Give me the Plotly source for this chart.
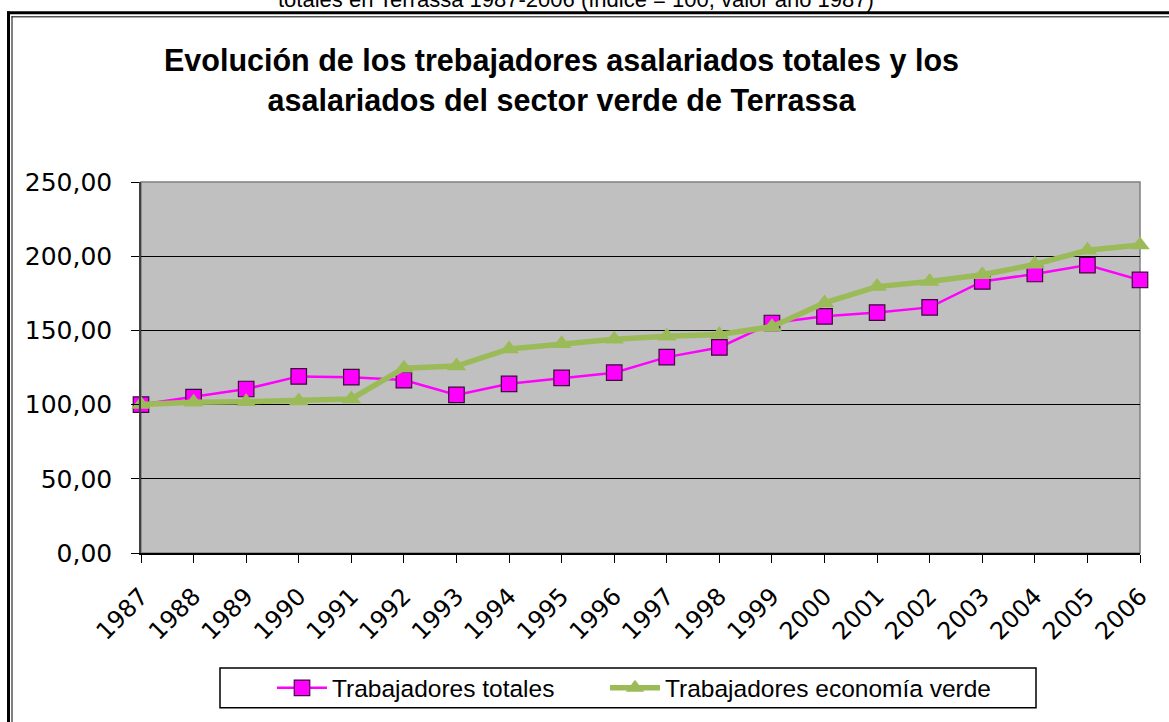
import plotly.graph_objects as go

years = list(range(1987, 2007))
year_labels = [str(y) for y in years]
totales = [100, 105, 110.5, 119, 118.5, 116.5, 106.5, 114, 118, 121.5,
           132, 138.5, 155, 159.5, 162, 165.5, 183, 188, 194, 184]
verde = [100, 101.5, 102, 102.5, 103.8, 124.5, 126, 137.5, 141, 144,
         146, 147.3, 152.5, 168.5, 179.5, 183, 187.5, 194.5, 204, 207.5]
y_ticks = [0, 50, 100, 150, 200, 250]

W, H = 1169, 722
L, R, T, B = 141, 29, 182, 166
PW, PH = W - L - R, H - T - B


def px(x):
    return (x - L) / PW


def py(y):
    return (H - B - y) / PH


fig = go.Figure()
fig.add_trace(go.Scatter(
    x=years, y=totales, name="Trabajadores totales", mode="lines+markers",
    line=dict(color="#FF00FF", width=2.5), cliponaxis=False,
    marker=dict(symbol="square", size=15.5, color="#FF00FF",
                line=dict(color="#3a0a3a", width=1.2)),
    legend="legend",
))
fig.add_trace(go.Scatter(
    x=years, y=verde, name="Trabajadores economía verde", mode="lines+markers",
    line=dict(color="#9BBB59", width=5.5), cliponaxis=False,
    marker=dict(symbol="triangle-up", size=17, color="#9BBB59"),
    legend="legend2",
))

shapes = [
    # plot border (gray)
    dict(type="rect", xref="paper", yref="paper", x0=0, x1=1, y0=0, y1=1,
         line=dict(color="#808080", width=1.5), layer="below"),
    # legend box
    dict(type="rect", xref="paper", yref="paper", x0=px(220), x1=px(1036),
         y0=py(672), y1=py(712), line=dict(color="black", width=1.5)),
    # outer double frame
    dict(type="line", xref="paper", yref="paper", x0=px(7), x1=px(1200),
         y0=py(11.5), y1=py(11.5), line=dict(color="black", width=3)),
    dict(type="line", xref="paper", yref="paper", x0=px(11.5), x1=px(1200),
         y0=py(15.5), y1=py(15.5), line=dict(color="black", width=1)),
    dict(type="line", xref="paper", yref="paper", x0=px(8.5), x1=px(8.5),
         y0=py(10), y1=py(760), line=dict(color="black", width=3)),
    dict(type="line", xref="paper", yref="paper", x0=px(12), x1=px(12),
         y0=py(15), y1=py(760), line=dict(color="black", width=1)),
]

annotations = [
    dict(text="totales en Terrassa 1987-2006 (índice = 100, valor año 1987)",
         xref="paper", yref="paper", x=px(576), y=py(13), xanchor="center",
         yanchor="bottom", showarrow=False,
         font=dict(family="Liberation Sans, Arial", size=22, color="black")),
    dict(text="<b>Evolución de los trebajadores asalariados totales y los<br>"
              "asalariados del sector verde de Terrassa</b>",
         xref="paper", yref="paper", x=px(561), y=py(79), xanchor="center",
         yanchor="middle", showarrow=False,
         font=dict(family="Liberation Sans, Arial", size=30.5, color="black")),
]

legend_common = dict(orientation="h", xanchor="left", yanchor="middle",
                     y=py(692), borderwidth=0, bgcolor="rgba(0,0,0,0)",
                     itemwidth=50,
                     font=dict(family="Liberation Sans, Arial", size=24.5,
                               color="black"))

fig.update_layout(
    width=W, height=H,
    margin=dict(l=L, r=R, t=T, b=B),
    paper_bgcolor="white", plot_bgcolor="#C0C0C0",
    separators=",.",
    showlegend=True,
    legend=dict(x=px(272), **legend_common),
    legend2=dict(x=px(605), **legend_common),
    shapes=shapes, annotations=annotations,
)
fig.update_xaxes(
    range=[1987, 2006], tickvals=years, ticktext=year_labels, tickangle=-45,
    showgrid=False, zeroline=False, showline=True, linecolor="black",
    linewidth=1.5, ticks="outside", ticklen=8, tickcolor="black",
    ticklabelstandoff=10,
    tickfont=dict(family="DejaVu Sans", size=24, color="black"),
)
fig.update_yaxes(
    range=[0, 250], tickvals=y_ticks, tickformat=".2f",
    showgrid=True, gridcolor="black", gridwidth=1, zeroline=False,
    showline=True, linecolor="#404040", linewidth=1.5, ticks="outside",
    ticklen=8, tickcolor="black", ticklabelstandoff=14,
    tickfont=dict(family="DejaVu Sans", size=25, color="black"),
)

fig.write_html("out.html",
               config={"displayModeBar": False},
               post_script="document.body.style.margin='0';"
                           "document.body.style.overflow='hidden';")
